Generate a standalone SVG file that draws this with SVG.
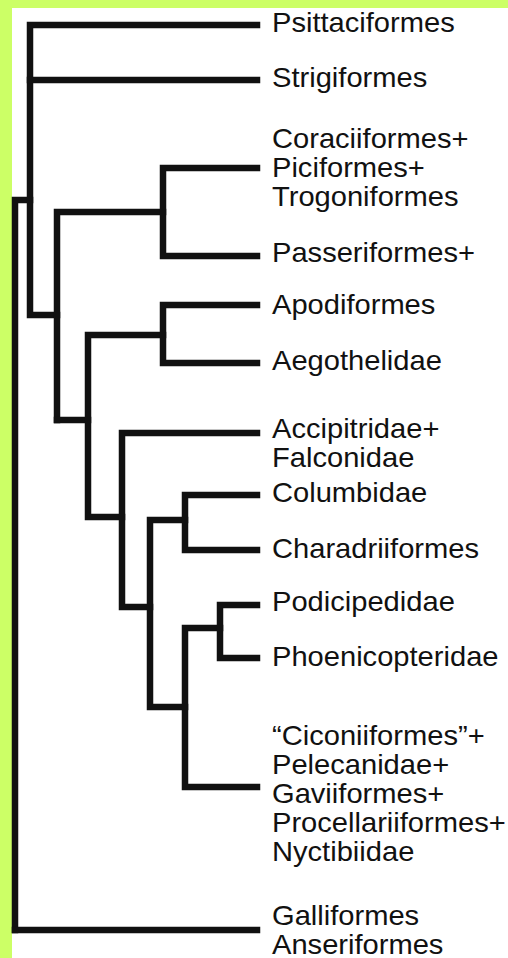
<svg xmlns="http://www.w3.org/2000/svg" width="508" height="958" viewBox="0 0 508 958">
<style>
.br{fill:none;stroke:#111;stroke-width:6.5;stroke-linecap:square;stroke-linejoin:miter}
.lb{font-family:"Liberation Sans",Arial,sans-serif;font-size:28px;fill:#111}
</style>
<rect x="0" y="0" width="508" height="958" fill="#ffffff"/>
<rect x="0" y="0" width="12" height="958" fill="#ccff66"/>
<rect x="0" y="0" width="508" height="8" fill="#ccff66"/>
<g id="connectors" class="br">
<path d="M15 930V200H30"/>
<path d="M257 25H30V315H57"/>
<path d="M30 80H257"/>
<path d="M57 420V212H163"/>
<path d="M257 168H163V256H257"/>
<path d="M57 420H88"/>
<path d="M163 335H88V517H122"/>
<path d="M257 305H163V363H257"/>
<path d="M257 433H122V607H150"/>
<path d="M185 520H150V707H185"/>
<path d="M257 495H185V550H257"/>
<path d="M220 628H185V787H257"/>
<path d="M257 605H220V658H257"/>
<path d="M15 930H257"/>
</g>
<g class="lb" transform="matrix(1.04,0,0,1,-10.88,0)">
<g id="psittaciformes"><text x="272" y="32">Psittaciformes</text></g>
<g id="strigiformes"><text x="272" y="87">Strigiformes</text></g>
<g id="coraciiformes"><text x="272" y="148">Coraciiformes+</text><text x="272" y="177">Piciformes+</text><text x="272" y="206">Trogoniformes</text></g>
<g id="passeriformes"><text x="272" y="262">Passeriformes+</text></g>
<g id="apodiformes"><text x="272" y="314">Apodiformes</text></g>
<g id="aegothelidae"><text x="272" y="370">Aegothelidae</text></g>
<g id="accipitridae"><text x="272" y="438">Accipitridae+</text><text x="272" y="467">Falconidae</text></g>
<g id="columbidae"><text x="272" y="502">Columbidae</text></g>
<g id="charadriiformes"><text x="272" y="558">Charadriiformes</text></g>
<g id="podicipedidae"><text x="272" y="611">Podicipedidae</text></g>
<g id="phoenicopteridae"><text x="272" y="666">Phoenicopteridae</text></g>
<g id="ciconiiformes"><text x="272" y="745">“Ciconiiformes”+</text><text x="272" y="774">Pelecanidae+</text><text x="272" y="803">Gaviiformes+</text><text x="272" y="832">Procellariiformes+</text><text x="272" y="861">Nyctibiidae</text></g>
<g id="galliformes"><text x="272" y="925">Galliformes</text><text x="272" y="954">Anseriformes</text></g>
</g>
</svg>
